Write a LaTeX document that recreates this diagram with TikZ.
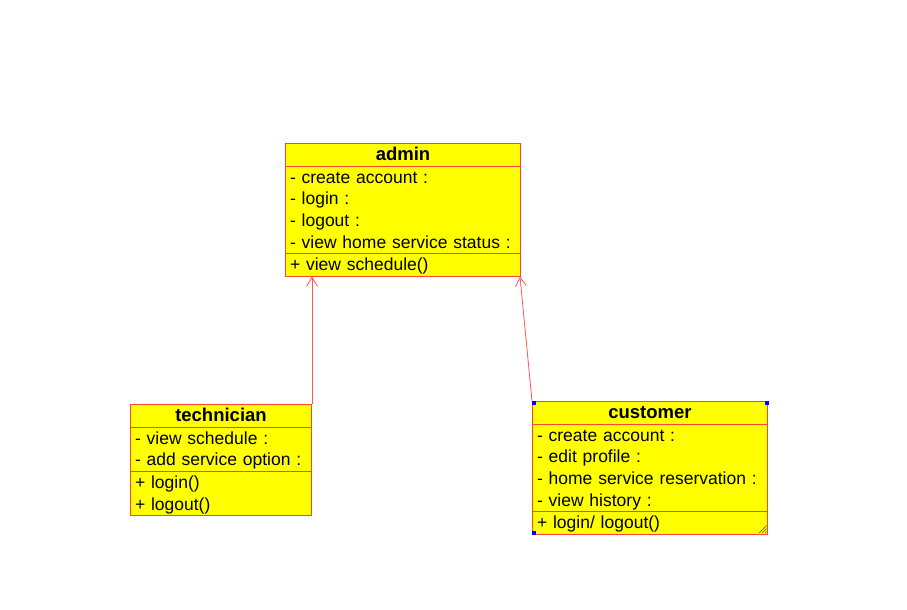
\documentclass[tikz,border=0pt]{standalone}
\usepackage{fontspec}
\setmainfont{Liberation Sans}
\usetikzlibrary{arrows.meta,shapes.multipart}
\definecolor{boxred}{RGB}{250,70,50}
\definecolor{linered}{RGB}{255,85,85}
\definecolor{umlyellow}{RGB}{255,255,0}
\definecolor{gripgray}{RGB}{110,110,40}
\newcommand{\ustrut}{\rule[-5pt]{0pt}{21.6pt}}
\newcommand{\umltitle}[1]{\hspace*{\fill}{\fontsize{18.5}{21.6}\selectfont\bfseries #1}\hspace*{\fill}\ustrut}

\begin{document}
\begin{tikzpicture}[x=1pt, y=-1pt,
  umlclass/.style={draw=boxred, fill=umlyellow, line width=1pt,
                   rectangle split, rectangle split parts=3,
                   rectangle split draw splits, anchor=north west,
                   inner xsep=4.5pt, inner ysep=0pt, text width=#1,
                   align=left, font=\fontsize{17.5}{21.6}\selectfont},
  arr/.style={-{Straight Barb[length=9pt,width=11pt]}, draw=linered, line width=0.8pt},
  handle/.style={fill=blue, inner sep=0pt, minimum size=4pt}
]
\useasboundingbox (0,0) rectangle (907,610);

\node[umlclass=226pt] (admin) at (285,143)
  {\umltitle{admin}
   \nodepart{two}- create account :\ustrut\\- login :\ustrut\\- logout :\ustrut\\- view home service status :\ustrut
   \nodepart{three}+ view schedule()\ustrut};
\node[umlclass=172pt] (tech) at (130,404)
  {\umltitle{technician}
   \nodepart{two}- view schedule :\ustrut\\- add service option :\ustrut
   \nodepart{three}+ login()\ustrut\\+ logout()\ustrut};
\node[umlclass=226pt] (cust) at (532,401)
  {\umltitle{customer}
   \nodepart{two}- create account :\ustrut\\- edit profile :\ustrut\\- home service reservation :\ustrut\\- view history :\ustrut
   \nodepart{three}+ login/ logout()\ustrut};

% selection marks on customer
\node[handle] (hnw) at ([xshift=1.5pt,yshift=-1.5pt]cust.north west) {};
\node[handle] (hne) at ([xshift=-1.5pt,yshift=-1.5pt]cust.north east) {};
\node[handle] (hsw) at ([xshift=1.5pt,yshift=1.5pt]cust.south west) {};
\foreach \d in {3,6,9}
  \draw[gripgray, line width=0.7pt] ([xshift=-\d pt,yshift=1.5pt]cust.south east) -- ([xshift=-1.5pt,yshift=\d pt]cust.south east);

\draw[arr] (tech.north east) -- (tech.north east |- admin.south);
\draw[arr] (cust.north west) -- ([xshift=-1pt]admin.south east);
\end{tikzpicture}
\end{document}
